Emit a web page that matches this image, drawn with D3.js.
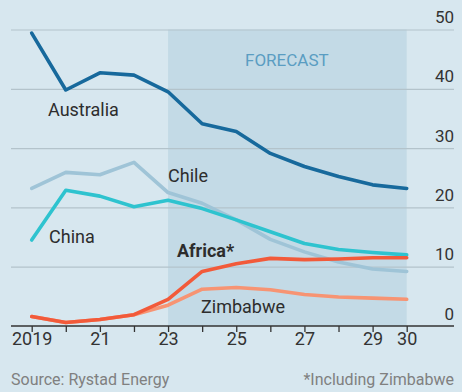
<!DOCTYPE html>
<html><head><meta charset="utf-8">
<script src="https://cdn.jsdelivr.net/npm/d3@7"></script>
<style>
html,body{margin:0;padding:0;background:#d7e7ef;}
svg{display:block;font-family:Roboto,"Noto Sans",sans-serif;}
</style></head>
<body>
<svg id="chart" width="462" height="392"></svg>
<script>
const years = [2019,2020,2021,2022,2023,2024,2025,2026,2027,2028,2029,2030];
const australia = [49.4,39.8,42.7,42.3,39.5,34.1,32.8,29.1,26.9,25.2,23.8,23.2];
const chile     = [23.2,25.9,25.5,27.6,22.5,20.7,17.9,14.6,12.5,10.8,9.6,9.2];
const china     = [14.5,22.9,21.9,20.1,21.2,19.8,17.9,15.9,13.9,12.9,12.4,12.0];
const africa    = [1.6,0.6,1.1,1.9,4.5,9.2,10.5,11.4,11.2,11.3,11.5,11.5];
const zimbabwe  = [1.6,0.6,1.1,1.9,3.5,6.2,6.5,6.1,5.3,4.9,4.7,4.5];
const yTicks = [0,10,20,30,40,50];
const xTickLabels = {2019:"2019",2021:"21",2023:"23",2025:"25",2027:"27",2029:"29",2030:"30"};
const forecastStart = 2023, forecastEnd = 2030;

const svg = d3.select("#chart");
const x = d3.scaleLinear().domain([2019,2030]).range([31.7,406.7]);
const y = d3.scaleLinear().domain([0,50]).range([326,29.5]);
const left = 11, right = 454;

// forecast shading
svg.append("rect")
  .attr("x", x(forecastStart)).attr("y", y(50))
  .attr("width", x(forecastEnd)-x(forecastStart)).attr("height", y(0)-y(50))
  .attr("fill","#c3dae6");

// gridlines
const gy = d3.axisRight(y).tickValues(yTicks).tickSize(right-left).tickFormat(d=>d);
const gG = svg.append("g").attr("transform",`translate(${left},0)`).call(gy);
gG.select(".domain").remove();
gG.selectAll(".tick line").attr("stroke","#b3c3cb").attr("stroke-width",1.2)
  .filter(d=>d===0).remove();
gG.selectAll(".tick text").attr("x", right-left).attr("dy",-7)
  .attr("text-anchor","end").attr("font-size",17).attr("fill","#333")
  .attr("font-family","Roboto");

// x axis
const xa = d3.axisBottom(x).tickValues(years).tickSize(6).tickFormat(d=>xTickLabels[d]||"");
const xG = svg.append("g").attr("transform",`translate(0,${y(0)})`).call(xa);
xG.select(".domain").remove();
xG.selectAll(".tick line").attr("stroke","#333").attr("stroke-width",1.3);
xG.selectAll(".tick text").attr("font-size",18).attr("fill","#333").attr("dy","0.55em")
  .attr("font-family","Roboto");
svg.append("line").attr("x1",left).attr("x2",right).attr("y1",y(0)).attr("y2",y(0))
  .attr("stroke","#333").attr("stroke-width",1.6);

const line = d3.line().x((d,i)=>x(years[i])).y(d=>y(d));
const series = [
  {v:chile, c:"#9fc4d7"},
  {v:china, c:"#2ec3cf"},
  {v:australia, c:"#17699c"},
  {v:zimbabwe, c:"#f79473"},
  {v:africa, c:"#f25a3a"}
];
series.forEach(s=>{
  svg.append("path").datum(s.v).attr("d",line).attr("fill","none")
    .attr("stroke",s.c).attr("stroke-width",3.6).attr("stroke-linejoin","round").attr("stroke-linecap","round");
});

const labels = [
  {t:"Australia", x:48, y:116, w:400},
  {t:"Chile", x:168, y:182, w:400},
  {t:"China", x:49, y:243, w:400},
  {t:"Africa*", x:177, y:257, w:700},
  {t:"Zimbabwe", x:201, y:313, w:400}
];
labels.forEach(l=>{
  svg.append("text").attr("x",l.x).attr("y",l.y).text(l.t)
    .attr("font-size",18).attr("font-weight",l.w).attr("fill","#2d2d2d");
});
svg.append("text").attr("x",245).attr("y",66).text("FORECAST")
  .attr("font-size",17).attr("fill","#5a9dc2");

svg.append("text").attr("x",11).attr("y",385).text("Source: Rystad Energy")
  .attr("font-size",16).attr("fill","#808080");
svg.append("text").attr("x",right).attr("y",385).attr("text-anchor","end").text("*Including Zimbabwe")
  .attr("font-size",16).attr("fill","#808080");
</script>
</body></html>
